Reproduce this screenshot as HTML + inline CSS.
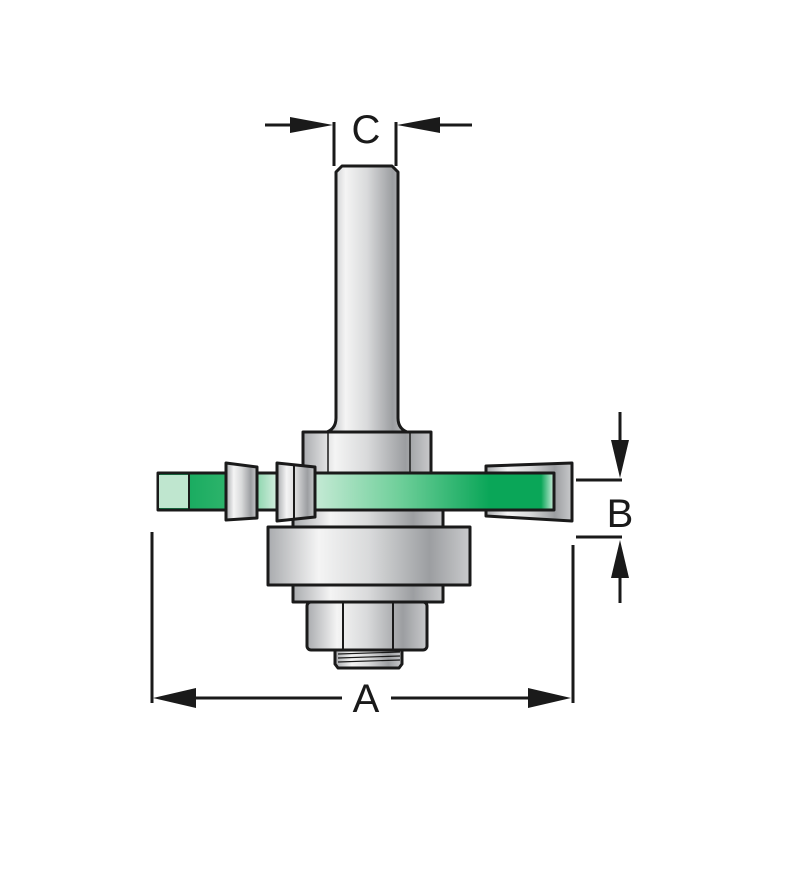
<!DOCTYPE html>
<html><head><style>body{margin:0;background:#fff}</style></head><body>
<svg width="800" height="864" viewBox="0 0 800 864" xmlns="http://www.w3.org/2000/svg">
<defs>
<linearGradient id="m" x1="0" x2="1" y1="0" y2="0">
<stop offset="0" stop-color="#a9abae"/><stop offset="0.25" stop-color="#f4f4f4"/><stop offset="0.5" stop-color="#d9dadb"/><stop offset="0.8" stop-color="#9c9ea1"/><stop offset="1" stop-color="#c9cacc"/></linearGradient>
<linearGradient id="g" x1="0" x2="1" y1="0" y2="0">
<stop offset="0" stop-color="#d8f0e2"/><stop offset="0.4" stop-color="#6fcf9a"/><stop offset="0.75" stop-color="#0aa658"/><stop offset="0.95" stop-color="#0aa658"/><stop offset="1" stop-color="#cfeedd"/></linearGradient>
<linearGradient id="g2" x1="0" x2="1" y1="0" y2="0">
<stop offset="0" stop-color="#0aa658"/><stop offset="0.6" stop-color="#2fb46c"/><stop offset="1" stop-color="#d8f0e2"/></linearGradient>
</defs>
<g stroke="#1a1a1a" stroke-width="3" fill="url(#m)" stroke-linejoin="round">
<!-- shank -->
<path d="M324 433 Q336 430 336 418 L336 172 L342 166 L392 166 L398 172 L398 418 Q398 430 410 433 Z"/>
<rect x="303" y="432" width="128" height="42"/>
<line x1="328" y1="433" x2="328" y2="474" stroke-width="1.5"/>
<line x1="410" y1="433" x2="410" y2="474" stroke-width="1.5"/>
<!-- lower hub -->
<rect x="293" y="505" width="150" height="22"/>
<!-- bearing -->
<rect x="268" y="527" width="202" height="58"/>
<rect x="293" y="585" width="150" height="17"/>
<!-- nut -->
<path d="M335 650 L402 650 L402 664 L399 668 L338 668 L335 664 Z"/>
<g stroke-width="1.2"><line x1="338" y1="654" x2="400" y2="652"/><line x1="338" y1="658" x2="400" y2="656"/><line x1="338" y1="662" x2="400" y2="660"/></g>
<rect x="307" y="602" width="120" height="48" rx="4"/>
<line x1="343" y1="602" x2="343" y2="650" stroke-width="2"/>
<line x1="393" y1="602" x2="393" y2="650" stroke-width="2"/>
<!-- disk left -->
<rect x="158" y="473" width="120" height="37" fill="url(#g2)"/>
<rect x="159" y="475" width="30" height="33" fill="#bfe6cf" stroke="none"/>
<line x1="189" y1="473" x2="189" y2="510" stroke-width="2"/>
<path d="M226 463 L257 467 L257 518 L226 520 Z"/>
<!-- disk right/main -->
<rect x="296" y="473" width="258" height="37" fill="url(#g)"/>
<path d="M277 463 L315 467 L315 517 L277 521 Z"/>
<line x1="294" y1="465" x2="294" y2="519" stroke-width="2"/>
<path d="M486 466 L572 463 L572 521 L486 516 L486 510 L554 510 L554 473 L486 473 Z"/>
</g>
<!-- dimensions -->
<g stroke="#1a1a1a" stroke-width="3" fill="#1a1a1a">
<line x1="334" y1="122" x2="334" y2="166"/><line x1="396" y1="122" x2="396" y2="166"/>
<line x1="265" y1="125" x2="300" y2="125"/><path d="M290 117 L333 125 L290 133 Z" stroke="none"/>
<line x1="430" y1="125" x2="472" y2="125"/><path d="M440 117 L397 125 L440 133 Z" stroke="none"/>
<line x1="620" y1="412" x2="620" y2="445"/><path d="M611 440 L620 478 L629 440 Z" stroke="none"/>
<line x1="576" y1="480" x2="622" y2="480"/><line x1="576" y1="537" x2="622" y2="537"/>
<line x1="620" y1="570" x2="620" y2="603"/><path d="M611 578 L620 540 L629 578 Z" stroke="none"/>
<line x1="152" y1="532" x2="152" y2="703"/><line x1="573" y1="545" x2="573" y2="703"/>
<line x1="190" y1="698" x2="342" y2="698"/><line x1="391" y1="698" x2="540" y2="698"/>
<path d="M196 688 L153 698 L196 708 Z" stroke="none"/><path d="M528 688 L571 698 L528 708 Z" stroke="none"/>
</g>
<g font-family="Liberation Sans, sans-serif" fill="#1a1a1a" font-size="40" text-anchor="middle">
<text x="366" y="143">C</text><text x="620" y="527">B</text><text x="366" y="712">A</text>
</g>
</svg>
</body></html>
